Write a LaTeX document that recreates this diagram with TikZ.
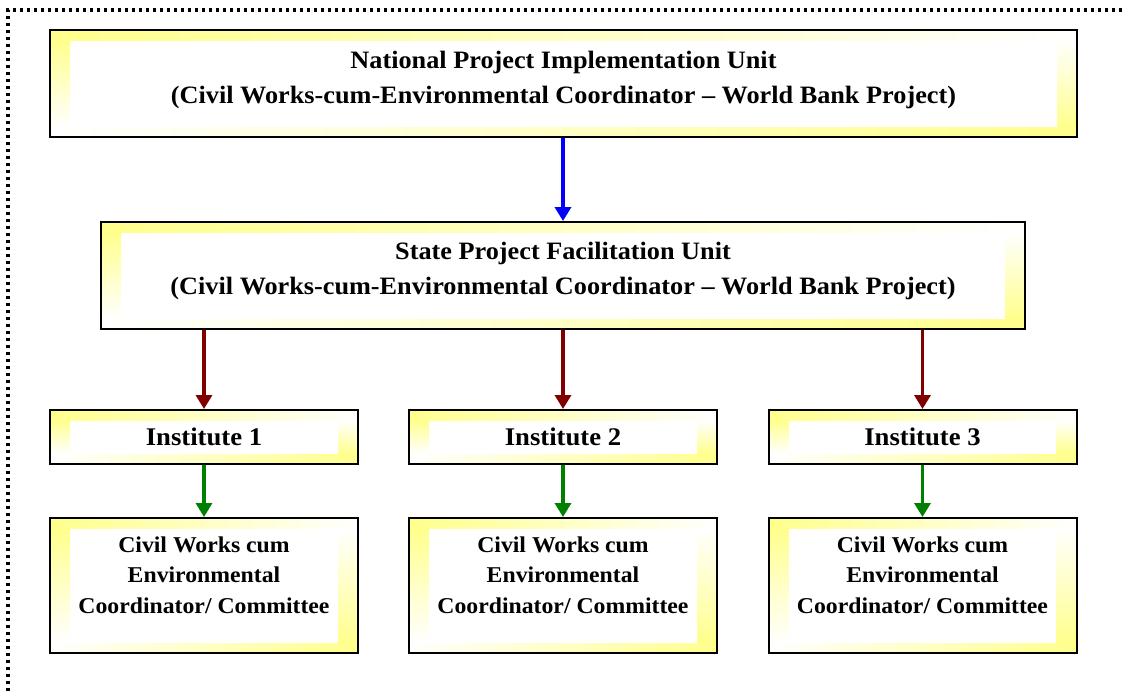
\documentclass[tikz,border=0pt]{standalone}
\usepackage{fontspec}
\setmainfont{Liberation Serif}[FakeStretch=1.05]
\usepackage{tikz}
\usetikzlibrary{arrows.meta, shadows}

\definecolor{glowyellow}{RGB}{255,255,140}
\definecolor{linkred}{RGB}{128,0,0}
\definecolor{linkgreen}{RGB}{0,128,0}

\tikzset{
	unitbox/.style={draw, line width=1pt, fill=white, align=center,
		drop shadow={shadow xshift=0.7pt, shadow yshift=-0.7pt, fill=black, opacity=0.35},
		path picture={
			\shade[left color=glowyellow, right color=white]
			(path picture bounding box.north west) rectangle ([yshift=-5pt]path picture bounding box.north east);
			\shade[left color=white, right color=glowyellow]
			([yshift=5pt]path picture bounding box.south west) rectangle (path picture bounding box.south east);
			\shade[top color=glowyellow, bottom color=white]
			([yshift=-5pt]path picture bounding box.north west) rectangle ([xshift=10pt,yshift=5pt]path picture bounding box.south west);
			\shade[top color=white, bottom color=glowyellow]
			([xshift=-10pt,yshift=-5pt]path picture bounding box.north east) rectangle ([yshift=5pt]path picture bounding box.south east);
		}},
	topfont/.style={font=\bfseries\fontsize{12.5}{17.5}\selectfont},
	instfont/.style={font=\bfseries\fontsize{12.7}{15}\selectfont},
	cellfont/.style={font=\bfseries\fontsize{11.3}{15.25}\selectfont},
	link/.style={line width=1.7pt, -{Triangle[width=8pt,length=7pt]}},
	dotframe/.style={line width=1.7pt, dash pattern=on 1.7pt off 1.8pt}
}

\begin{document}
\begin{tikzpicture}[x=0.5pt, y=-0.5pt]
	\useasboundingbox (0,0) rectangle (1125,691);
	\draw[dotframe] (8,691) -- (8,10) -- (1125,10);

	\node[unitbox, topfont, minimum width=513.5pt, minimum height=53.5pt, text depth=6.5pt] (npiu) at (563.5,83.5)
	{National Project Implementation Unit\\(Civil Works-cum-Environmental Coordinator -- World Bank Project)};
	\node[unitbox, topfont, minimum width=462pt, minimum height=53.5pt, text depth=7.5pt] (spfu) at (563,275.5)
	{State Project Facilitation Unit\\(Civil Works-cum-Environmental Coordinator -- World Bank Project)};

	\node[unitbox, instfont, minimum width=154pt, minimum height=27pt] (inst1) at (204,437) {Institute 1};
	\node[unitbox, instfont, minimum width=154pt, minimum height=27pt] (inst2) at (563,437) {Institute 2};
	\node[unitbox, instfont, minimum width=154pt, minimum height=27pt] (inst3) at (922.5,437) {Institute 3};

	\node[unitbox, cellfont, minimum width=154pt, minimum height=67.5pt, text depth=10.5pt] (cell1) at (204,585.5)
	{Civil Works cum\\Environmental\\Coordinator/ Committee};
	\node[unitbox, cellfont, minimum width=154pt, minimum height=67.5pt, text depth=10.5pt] (cell2) at (563,585.5)
	{Civil Works cum\\Environmental\\Coordinator/ Committee};
	\node[unitbox, cellfont, minimum width=154pt, minimum height=67.5pt, text depth=10.5pt] (cell3) at (922.5,585.5)
	{Civil Works cum\\Environmental\\Coordinator/ Committee};

	\draw[link, blue] (npiu.south -| spfu.north) -- (spfu.north);
	\draw[link, linkred] (spfu.south -| inst1.north) -- (inst1.north);
	\draw[link, linkred] (spfu.south -| inst2.north) -- (inst2.north);
	\draw[link, linkred] (spfu.south -| inst3.north) -- (inst3.north);
	\draw[link, linkgreen] (inst1.south) -- (cell1.north);
	\draw[link, linkgreen] (inst2.south) -- (cell2.north);
	\draw[link, linkgreen] (inst3.south) -- (cell3.north);
\end{tikzpicture}
\end{document}
